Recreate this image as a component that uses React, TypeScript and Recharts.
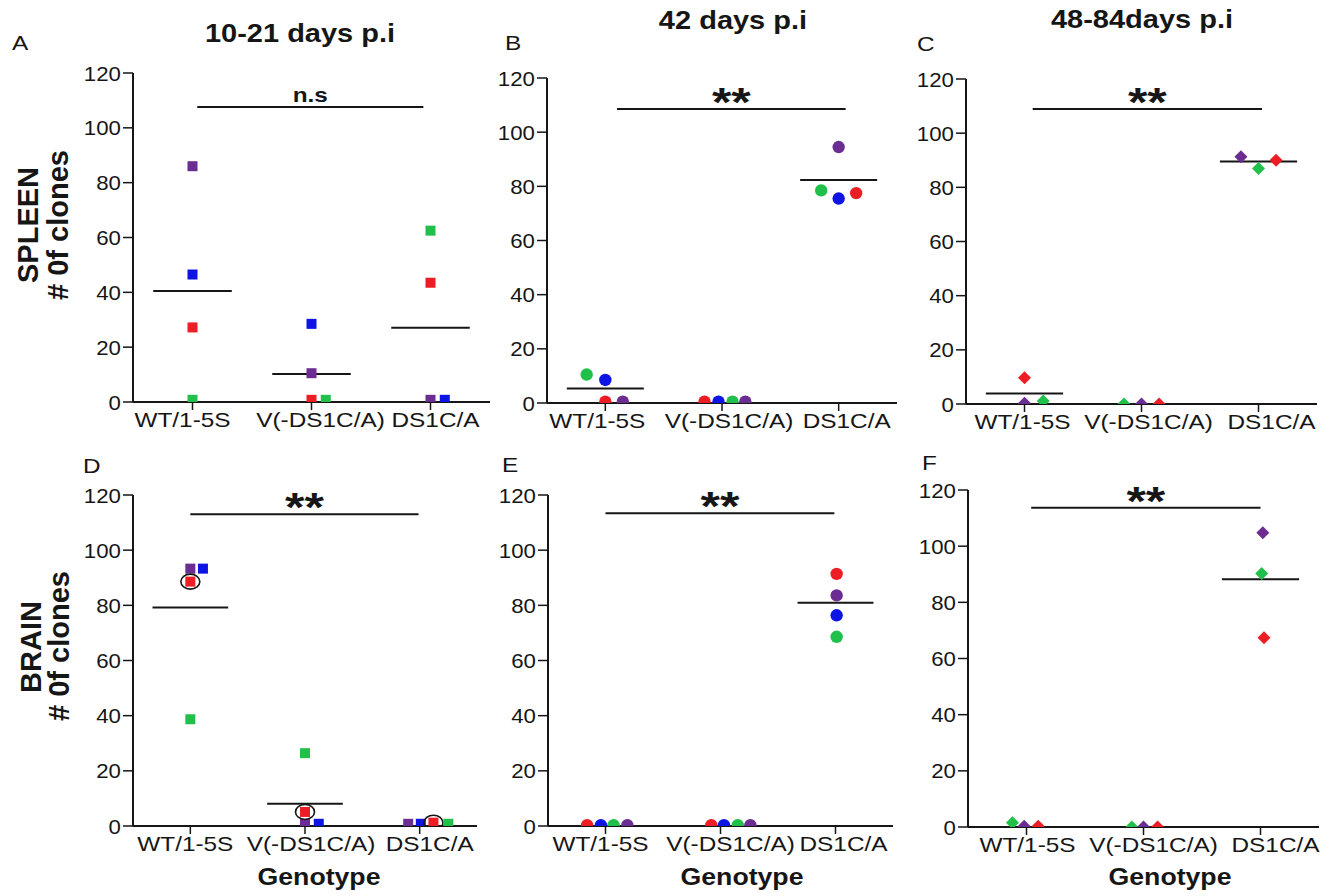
import { ScatterChart, Scatter, XAxis, YAxis, ReferenceLine } from 'recharts';

const FONT = '"Liberation Sans", Arial, Helvetica, sans-serif';
const INK = '#161616';
// the source figure is a little wider than tall, so text is stretched sideways
const SX = 1.16;

const genotypes = ['WT/1-5S', 'V(-DS1C/A)', 'DS1C/A'];
const yTicks = [0, 20, 40, 60, 80, 100, 120];

const mouseColors: Record<string, string> = {
  purple: '#6b2d92',
  blue: '#0d14e4',
  red: '#ec1d25',
  green: '#21c04b',
};

// # of clones per mouse, in genotype order
const spleen10to21 = [
  { mouse: 'purple', values: [86, 10.5, 0.8] },
  { mouse: 'blue', values: [46.5, 28.5, 0.8] },
  { mouse: 'red', values: [27.2, 0.8, 43.5] },
  { mouse: 'green', values: [0.8, 0.8, 62.5] },
];
const spleen10to21Jitter = [[0, 0, 0], [0, 0, 0.12], [0, 0, 0], [0, 0.12, 0]];
const spleen10to21Means = [40.5, 10.2, 27.1];
const spleen10to21Sig = { from: 0.04, to: 1.94, y: 107.6, text: 'n.s' };

const spleen42 = [
  { mouse: 'green', values: [10.5, 0.5, 78.5] },
  { mouse: 'blue', values: [8.5, 0.5, 75.5] },
  { mouse: 'red', values: [0.5, 0.5, 77.5] },
  { mouse: 'purple', values: [0.5, 0.5, 94.5] },
];
const spleen42Jitter = [[-0.16, 0.09, -0.15], [0, -0.03, 0], [0, -0.15, 0.15], [0.15, 0.2, 0]];
const spleen42Means = [5.4, null, 82.3];
const spleen42Sig = { from: 0.1, to: 2.06, y: 108.6, text: '**' };

const spleen48to84 = [
  { mouse: 'purple', values: [0.3, 0, 91.3] },
  { mouse: 'red', values: [9.7, 0, 90] },
  { mouse: 'green', values: [1.1, 0, 87] },
];
const spleen48to84Jitter = [[0, 0, -0.15], [0, 0.15, 0.15], [0.16, -0.15, 0]];
const spleen48to84Means = [3.9, null, 89.5];
const spleen48to84Sig = { from: 0.07, to: 2.03, y: 108.9, text: '**' };

const brain10to21 = [
  { mouse: 'purple', values: [93.3, 0.8, 0.8] },
  { mouse: 'blue', values: [93.3, 0.8, 0.8] },
  { mouse: 'red', values: [88.6, 5.1, 1.2], circled: true },
  { mouse: 'green', values: [38.7, 26.4, 0.8] },
];
const brain10to21Jitter = [[0, 0, -0.1], [0.11, 0.12, 0.01], [0, 0, 0.12], [0, 0, 0.25]];
const brain10to21Means = [79.2, 8.1, null];
const brain10to21Sig = { from: 0, to: 1.99, y: 113, text: '**' };

const brain42 = [
  { mouse: 'red', values: [0.3, 0.3, 91.4] },
  { mouse: 'blue', values: [0.3, 0.3, 76.4] },
  { mouse: 'green', values: [0.3, 0.3, 68.6] },
  { mouse: 'purple', values: [0.3, 0.3, 83.6] },
];
const brain42Jitter = [[-0.16, -0.08, 0.01], [-0.04, 0.03, 0.01], [0.07, 0.15, 0.01], [0.19, 0.26, 0.01]];
const brain42Means = [null, null, 80.9];
const brain42Sig = { from: 0, to: 1.99, y: 113.4, text: '**' };

const brain48to84 = [
  { mouse: 'green', values: [1.5, 0, 90.3] },
  { mouse: 'purple', values: [0.3, 0, 104.8] },
  { mouse: 'red', values: [0.3, 0, 67.4] },
];
const brain48to84Jitter = [[-0.12, -0.1, 0.01], [-0.02, 0, 0.02], [0.1, 0.12, 0.03]];
const brain48to84Means = [null, null, 88.2];
const brain48to84Sig = { from: 0.04, to: 2.0, y: 113.7, text: '**' };

type Mouse = { mouse: string; values: number[]; circled?: boolean };
type Sig = { from: number; to: number; y: number; text: string };

const panels = [
  { data: spleen10to21, jitter: spleen10to21Jitter, means: spleen10to21Means, sig: spleen10to21Sig, marker: 'square', plot: { l: 133, t: 73, r: 490, b: 402 }, labelDx: [-10, 9, 5] },
  { data: spleen42, jitter: spleen42Jitter, means: spleen42Means, sig: spleen42Sig, marker: 'circle', plot: { l: 547, t: 78, r: 897, b: 403 }, labelDx: [-8, 7, 8] },
  { data: spleen48to84, jitter: spleen48to84Jitter, means: spleen48to84Means, sig: spleen48to84Sig, marker: 'diamond', plot: { l: 966, t: 79, r: 1317, b: 404 }, labelDx: [-2, 7, 13] },
  { data: brain10to21, jitter: brain10to21Jitter, means: brain10to21Means, sig: brain10to21Sig, marker: 'square', plot: { l: 133, t: 495, r: 477, b: 826 }, labelDx: [-5, 6, 10] },
  { data: brain42, jitter: brain42Jitter, means: brain42Means, sig: brain42Sig, marker: 'circle', plot: { l: 548, t: 495, r: 893, b: 826 }, labelDx: [-5, 10, 8] },
  { data: brain48to84, jitter: brain48to84Jitter, means: brain48to84Means, sig: brain48to84Sig, marker: 'diamond', plot: { l: 968, t: 490, r: 1319, b: 827 }, labelDx: [1, 10, 15] },
];

const YW = 70;
const PAD_T = 22;
const PAD_R = 12;
const XH = 40;

function SText({ x, y, size, bold, anchor = 'start', sx = SX, rotate, children }: any) {
  const t = `translate(${x} ${y}) scale(${sx} 1)${rotate ? ` rotate(${rotate})` : ''}`;
  return (
    <text
      transform={t}
      textAnchor={anchor}
      fontSize={size}
      fontWeight={bold ? 'bold' : 'normal'}
      fill={INK}
      fontFamily={FONT}
    >
      {children}
    </text>
  );
}

function renderMarker(p: any, kind: string, color: string) {
  const { cx, cy, payload } = p;
  if (cx == null || cy == null) return <g />;
  let mark;
  if (kind === 'square') {
    mark = <rect x={cx - 5} y={cy - 5} width={10} height={10} fill={color} />;
  } else if (kind === 'circle') {
    mark = <circle cx={cx} cy={cy} r={6.2} fill={color} />;
  } else {
    const h = 6.5;
    mark = <polygon points={`${cx},${cy - h} ${cx + h},${cy} ${cx},${cy + h} ${cx - h},${cy}`} fill={color} />;
  }
  return (
    <g>
      {mark}
      {payload && payload.circled ? (
        <ellipse cx={cx} cy={cy} rx={9.5} ry={7.5} fill="none" stroke={INK} strokeWidth={1.6} />
      ) : null}
    </g>
  );
}

function GenotypeTick({ x, y, payload, offsets }: any) {
  const i = payload.value;
  return (
    <SText x={x + offsets[i]} y={y + 15} size={21} anchor="middle">
      {genotypes[i]}
    </SText>
  );
}

function CountTick({ x, y, payload }: any) {
  return (
    <SText x={x} y={y + 7.5} size={21} anchor="end" sx={1.06}>
      {payload.value}
    </SText>
  );
}

function SigLabel({ viewBox, text }: any) {
  if (!viewBox) return null;
  const cx = viewBox.x + viewBox.width / 2;
  const stars = text === '**';
  return (
    <SText x={cx} y={stars ? viewBox.y + 7 : viewBox.y - 5} size={stars ? 40 : 21} bold anchor="middle" sx={stars ? 1.25 : SX}>
      {text}
    </SText>
  );
}

function Panel({ cfg }: { cfg: (typeof panels)[number] }) {
  const { plot } = cfg;
  const width = plot.r - plot.l + YW + PAD_R;
  const height = plot.b - plot.t + PAD_T + XH;
  const sig = cfg.sig as Sig;
  return (
    <div style={{ position: 'absolute', left: plot.l - YW, top: plot.t - PAD_T, width, height }}>
      <ScatterChart width={width} height={height} margin={{ top: PAD_T, right: PAD_R, bottom: 0, left: 0 }}>
        <XAxis
          type="number"
          dataKey="x"
          domain={[-0.5, 2.5]}
          ticks={[0, 1, 2]}
          height={XH}
          allowDataOverflow
          axisLine={{ stroke: INK, strokeWidth: 2 }}
          tickLine={{ stroke: INK, strokeWidth: 1.5 }}
          tickSize={8}
          tickMargin={2}
          tick={<GenotypeTick offsets={cfg.labelDx} />}
        />
        <YAxis
          type="number"
          dataKey="y"
          domain={[0, 120]}
          ticks={yTicks}
          width={YW}
          allowDataOverflow
          axisLine={{ stroke: INK, strokeWidth: 2 }}
          tickLine={{ stroke: INK, strokeWidth: 1.5 }}
          tickSize={10}
          tickMargin={2}
          tick={<CountTick />}
        />
        {(cfg.data as Mouse[]).map((m, k) => (
          <Scatter
            key={m.mouse}
            name={m.mouse}
            data={m.values.map((v, i) => ({ x: i + cfg.jitter[k][i], y: v, circled: !!m.circled }))}
            fill={mouseColors[m.mouse]}
            isAnimationActive={false}
            shape={(p: any) => renderMarker(p, cfg.marker, mouseColors[m.mouse])}
          />
        ))}
        {cfg.means.map((m, i) =>
          m == null ? null : (
            <ReferenceLine
              key={`mean-${i}`}
              segment={[{ x: i - 0.33, y: m }, { x: i + 0.33, y: m }]}
              stroke={INK}
              strokeWidth={2}
            />
          )
        )}
        <ReferenceLine
          segment={[{ x: sig.from, y: sig.y }, { x: sig.to, y: sig.y }]}
          stroke={INK}
          strokeWidth={2}
          label={<SigLabel text={sig.text} />}
        />
      </ScatterChart>
    </div>
  );
}

const titles = [
  { text: '10-21 days p.i', x: 300, y: 42 },
  { text: '42 days p.i', x: 733, y: 29 },
  { text: '48-84days p.i', x: 1142, y: 28 },
];
const letters = [
  { text: 'A', x: 12, y: 50 },
  { text: 'B', x: 505, y: 50 },
  { text: 'C', x: 917, y: 51 },
  { text: 'D', x: 83, y: 473 },
  { text: 'E', x: 502, y: 472 },
  { text: 'F', x: 922, y: 470 },
];
const yTitles = [
  { text: 'SPLEEN', x: 38, y: 225 },
  { text: '# 0f clones', x: 68, y: 225 },
  { text: 'BRAIN', x: 41, y: 647 },
  { text: '# 0f clones', x: 69, y: 646 },
];
const xTitles = [319, 742, 1170];

export default function App() {
  return (
    <div style={{ position: 'absolute', left: 0, top: 0, width: 1331, height: 896, background: '#fff', fontFamily: FONT }}>
      {panels.map((cfg, i) => (
        <Panel key={i} cfg={cfg} />
      ))}
      <svg width={1331} height={896} style={{ position: 'absolute', left: 0, top: 0, pointerEvents: 'none' }}>
        {titles.map((t) => (
          <SText key={t.text} x={t.x} y={t.y} size={25} bold anchor="middle">
            {t.text}
          </SText>
        ))}
        {letters.map((t) => (
          <SText key={t.text} x={t.x} y={t.y} size={21}>
            {t.text}
          </SText>
        ))}
        {yTitles.map((t, i) => (
          <SText key={i} x={t.x} y={t.y} size={29} bold anchor="middle" rotate={-90} sx={1.0}>
            {t.text}
          </SText>
        ))}
        {xTitles.map((x) => (
          <SText key={x} x={x} y={885} size={23} bold anchor="middle">
            Genotype
          </SText>
        ))}
      </svg>
    </div>
  );
}
